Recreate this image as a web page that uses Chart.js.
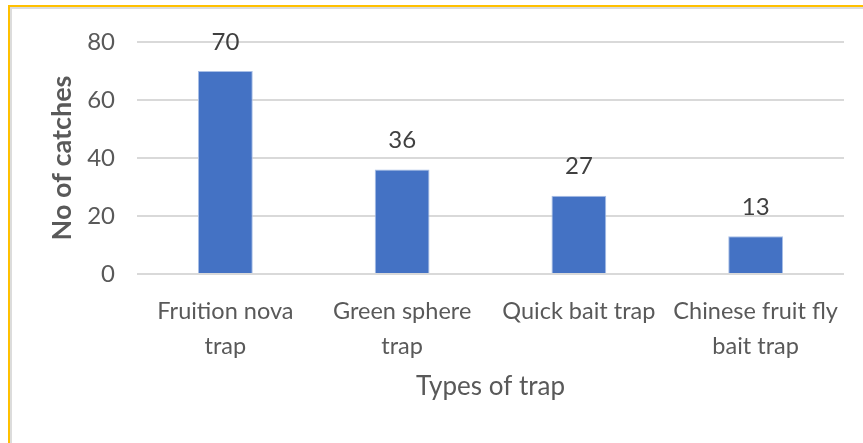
<!DOCTYPE html>
<html>
<head>
<meta charset="utf-8">
<script src="https://cdn.jsdelivr.net/npm/chart.js@4.4.1/dist/chart.umd.min.js"></script>
<style>
    html, body { margin: 0; padding: 0; background: #fff; }
    .frame { position: relative; width: 863px; height: 443px; overflow: hidden; }
    .edge-outer { position: absolute; left: 8px; top: 5px; right: 0; bottom: 0;
        border-top: 2px solid #ffc000; border-left: 2px solid #ffc000; }
    .edge-inner { position: absolute; left: 10px; top: 7px; right: 0; bottom: 0;
        border-top: 2px solid #dcdcdc; border-left: 2px solid #dcdcdc; }
    canvas { position: absolute; left: 0; top: 0; }
</style>
</head>
<body>
<div class="frame">
    <canvas id="trapChart" width="863" height="443"></canvas>
    <div class="edge-outer"></div>
    <div class="edge-inner"></div>
</div>
<script>
const trapTypes = [
    ['Fruition nova', 'trap'],
    ['Green sphere', 'trap'],
    'Quick bait trap',
    ['Chinese fruit fly', 'bait trap']
];
const catches = [70, 36, 27, 13];
const yTicks = [0, 20, 40, 60, 80];

const FONT = 'Lato, "Open Sans", sans-serif';
const TEXT = '#595959';

// value labels drawn just above each bar
const barValueLabels = {
    id: 'barValueLabels',
    afterDatasetsDraw(chart) {
        const { ctx } = chart;
        const meta = chart.getDatasetMeta(0);
        ctx.save();
        ctx.font = `24px ${FONT}`;
        ctx.fillStyle = '#404040';
        ctx.textAlign = 'center';
        ctx.textBaseline = 'middle';
        meta.data.forEach((bar, i) => {
            ctx.fillText(String(catches[i]), bar.x, bar.y - 29);
        });
        ctx.restore();
    }
};

new Chart(document.getElementById('trapChart'), {
    type: 'bar',
    data: {
        labels: trapTypes,
        datasets: [{
            data: catches,
            backgroundColor: '#4472c4',
            borderColor: '#a9bfe6',
            borderWidth: 1,
            barPercentage: 0.31,
            categoryPercentage: 1
        }]
    },
    options: {
        responsive: false,
        animation: false,
        layout: { padding: { left: 0, right: 19, top: 42, bottom: 41 } },
        plugins: {
            legend: { display: false },
            tooltip: { enabled: false }
        },
        scales: {
            x: {
                grid: { display: false, drawTicks: false },
                border: { display: false },
                ticks: {
                    color: TEXT,
                    font: { family: FONT, size: 23.5, lineHeight: 1.5 },
                    padding: 20,
                    maxRotation: 0,
                    autoSkip: false
                },
                title: {
                    display: true,
                    text: 'Types of trap',
                    color: TEXT,
                    font: { family: FONT, size: 26 },
                    padding: { top: 0, bottom: 0 }
                },
                afterFit: (scale) => { scale.height = 128; }
            },
            y: {
                min: 0,
                max: 80,
                afterBuildTicks: (scale) => { scale.ticks = yTicks.map((v) => ({ value: v })); },
                grid: { color: '#d9d9d9', lineWidth: 2, drawTicks: false },
                border: { display: false },
                ticks: {
                    color: TEXT,
                    font: { family: FONT, size: 24 },
                    padding: 22
                },
                title: {
                    display: true,
                    text: 'No of catches',
                    color: TEXT,
                    font: { family: FONT, size: 27, weight: 'bold' },
                    padding: { top: 46, bottom: 0 }
                },
                afterFit: (scale) => { scale.width = 137; }
            }
        }
    },
    plugins: [barValueLabels]
});
</script>
</body>
</html>
